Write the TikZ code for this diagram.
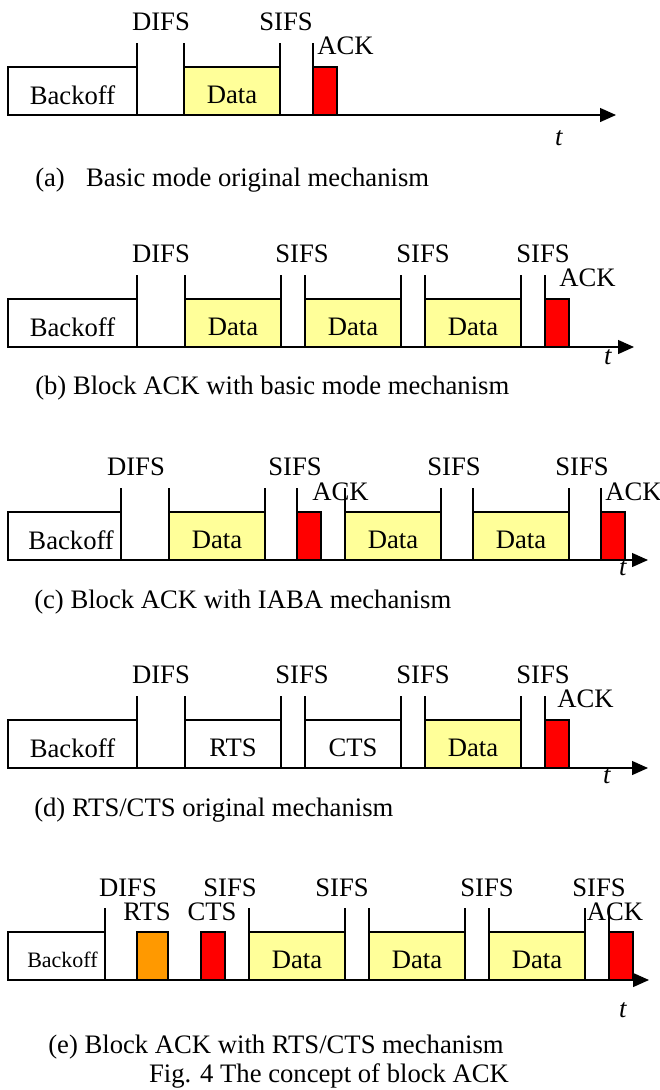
\documentclass[tikz,border=0pt]{standalone}
\usepackage{fontspec}
\setmainfont{Liberation Serif}
\usetikzlibrary{arrows.meta}
\definecolor{dataylw}{RGB}{255,255,153}
\definecolor{rtsorange}{RGB}{255,153,0}

\begin{document}
\begin{tikzpicture}[x=0.75pt, y=-0.75pt,
    font=\fontsize{20}{24}\selectfont,
    framebox/.style={draw, line width=0.8pt, inner sep=0pt, outer sep=0pt,
        anchor=south west, minimum height=36pt},
    idlebox/.style={framebox, fill=white},
    databox/.style={framebox, fill=dataylw},
    ackbox/.style={framebox, fill=red},
    rtsbox/.style={framebox, fill=rtsorange},
    boxtext/.style={inner sep=0pt, yshift=-3pt},
    tickline/.style={line width=0.8pt},
    timeaxis/.style={line width=1pt, -{Triangle[length=12pt,width=10.5pt]}},
    lbl/.style={inner sep=0pt},
    capt/.style={inner sep=0pt, anchor=west}]
    \useasboundingbox (0,0) rectangle (660,1090);

    % (a)
    \begin{scope}[shift={(0,115)}]
        \foreach \xa/\xb/\kind/\txt [count=\i] in {8/137/idlebox/Backoff, 184/280/databox/Data, 313/337/ackbox/{}}{
            \pgfmathsetmacro{\boxw}{(\xb-\xa)*0.75}
            \node[\kind, minimum width=\boxw pt] (a-\i) at (\xa,0) {};
            \node[boxtext] (a-\i-txt) at (a-\i.center) {\txt};
        }
        \foreach \x in {137,184,280,313}
            \draw[tickline] (\x,-48) -- (\x,-72);
        \node[lbl] (a-difs) at (161,-93) {DIFS};
        \node[lbl] (a-sifs) at (286,-93) {SIFS};
        \node[lbl, anchor=west] (a-ack) at (317,-69) {ACK};
        \coordinate (a-end) at (616,0);
        \draw[timeaxis] (a-1.south west) -- (a-end);
        \node[lbl] (a-t) at (559,23) {\textit{t}};
        \node[capt] (a-cap) at (35,65) {(a)\hspace{0.8em}Basic mode original mechanism};
    \end{scope}

    % (b)
    \begin{scope}[shift={(0,347)}]
        \foreach \xa/\xb/\kind/\txt [count=\i] in {8/137/idlebox/Backoff, 185/281/databox/Data,
            305/401/databox/Data, 425/521/databox/Data, 545/569/ackbox/{}}{
            \pgfmathsetmacro{\boxw}{(\xb-\xa)*0.75}
            \node[\kind, minimum width=\boxw pt] (b-\i) at (\xa,0) {};
            \node[boxtext] (b-\i-txt) at (b-\i.center) {\txt};
        }
        \foreach \x in {137,185,281,305,401,425,521,545}
            \draw[tickline] (\x,-48) -- (\x,-72);
        \node[lbl] (b-difs) at (161,-93) {DIFS};
        \foreach \x [count=\i] in {302,423,543}
            \node[lbl] (b-sifs\i) at (\x,-93) {SIFS};
        \node[lbl, anchor=west] (b-ack) at (559,-69) {ACK};
        \coordinate (b-end) at (634,0);
        \draw[timeaxis] (b-1.south west) -- (b-end);
        \node[lbl] (b-t) at (608,10) {\textit{t}};
        \node[capt] (b-cap) at (35,41) {(b) Block ACK with basic mode mechanism};
    \end{scope}

    % (c)
    \begin{scope}[shift={(0,560)}]
        \foreach \xa/\xb/\kind/\txt [count=\i] in {8/121/idlebox/{}, 169/265/databox/Data,
            297/321/ackbox/{}, 345/441/databox/Data, 473/569/databox/Data, 601/625/ackbox/{}}{
            \pgfmathsetmacro{\boxw}{(\xb-\xa)*0.75}
            \node[\kind, minimum width=\boxw pt] (c-\i) at (\xa,0) {};
            \node[boxtext] (c-\i-txt) at (c-\i.center) {\txt};
        }
        \node[boxtext, xshift=5pt] (c-backoff) at (c-1.center) {Backoff};
        \foreach \x in {121,169,265,297,345,441,473,569,601}
            \draw[tickline] (\x,-48) -- (\x,-72);
        \node[lbl] (c-difs) at (136,-93) {DIFS};
        \foreach \x [count=\i] in {295,454,582}
            \node[lbl] (c-sifs\i) at (\x,-93) {SIFS};
        \node[lbl, anchor=west] (c-ack1) at (312,-68) {ACK};
        \node[lbl, anchor=west] (c-ack2) at (605,-68) {ACK};
        \coordinate (c-end) at (648,0);
        \draw[timeaxis] (c-1.south west) -- (c-end);
        \node[lbl] (c-t) at (623,8) {\textit{t}};
        \node[capt] (c-cap) at (34,42) {(c) Block ACK with IABA mechanism};
    \end{scope}

    % (d)
    \begin{scope}[shift={(0,768)}]
        \foreach \xa/\xb/\kind/\txt [count=\i] in {8/137/idlebox/Backoff, 185/281/idlebox/RTS,
            305/401/idlebox/CTS, 425/521/databox/Data, 545/569/ackbox/{}}{
            \pgfmathsetmacro{\boxw}{(\xb-\xa)*0.75}
            \node[\kind, minimum width=\boxw pt] (d-\i) at (\xa,0) {};
            \node[boxtext] (d-\i-txt) at (d-\i.center) {\txt};
        }
        \foreach \x in {137,185,281,305,401,425,521,545}
            \draw[tickline] (\x,-48) -- (\x,-72);
        \node[lbl] (d-difs) at (161,-93) {DIFS};
        \foreach \x [count=\i] in {302,423,543}
            \node[lbl] (d-sifs\i) at (\x,-93) {SIFS};
        \node[lbl, anchor=west] (d-ack) at (557,-69) {ACK};
        \coordinate (d-end) at (648,0);
        \draw[timeaxis] (d-1.south west) -- (d-end);
        \node[lbl] (d-t) at (607,8) {\textit{t}};
        \node[capt] (d-cap) at (34,42) {(d) RTS/CTS original mechanism};
    \end{scope}

    % (e)
    \begin{scope}[shift={(0,980)}]
        \foreach \xa/\xb/\kind/\txt [count=\i] in {8/105/idlebox/{}, 137/168/rtsbox/{},
            201/225/ackbox/{}, 249/345/databox/Data, 369/465/databox/Data,
            489/585/databox/Data, 609/633/ackbox/{}}{
            \pgfmathsetmacro{\boxw}{(\xb-\xa)*0.75}
            \node[\kind, minimum width=\boxw pt] (e-\i) at (\xa,0) {};
            \node[boxtext] (e-\i-txt) at (e-\i.center) {\txt};
        }
        \node[boxtext, xshift=4.5pt, font=\fontsize{16.5}{20}\selectfont] (e-backoff) at (e-1.center) {Backoff};
        \foreach \x in {105,249,345,369,465,489,585,609}
            \draw[tickline] (\x,-48) -- (\x,-72);
        \node[lbl] (e-difs) at (128,-92) {DIFS};
        \foreach \x [count=\i] in {230,342,487,599}
            \node[lbl] (e-sifs\i) at (\x,-92) {SIFS};
        \node[lbl] (e-rts) at (147,-68) {RTS};
        \node[lbl] (e-cts) at (212,-68) {CTS};
        \node[lbl] (e-ack) at (615,-68) {ACK};
        \coordinate (e-end) at (649,0);
        \draw[timeaxis] (e-1.south west) -- (e-end);
        \node[lbl] (e-t) at (623,30) {\textit{t}};
        \node[lbl] (e-cap) at (276,67) {(e) Block ACK with RTS/CTS mechanism};
        \node[lbl] (e-fig) at (329,96) {Fig. 4 The concept of block ACK};
    \end{scope}
\end{tikzpicture}
\end{document}
